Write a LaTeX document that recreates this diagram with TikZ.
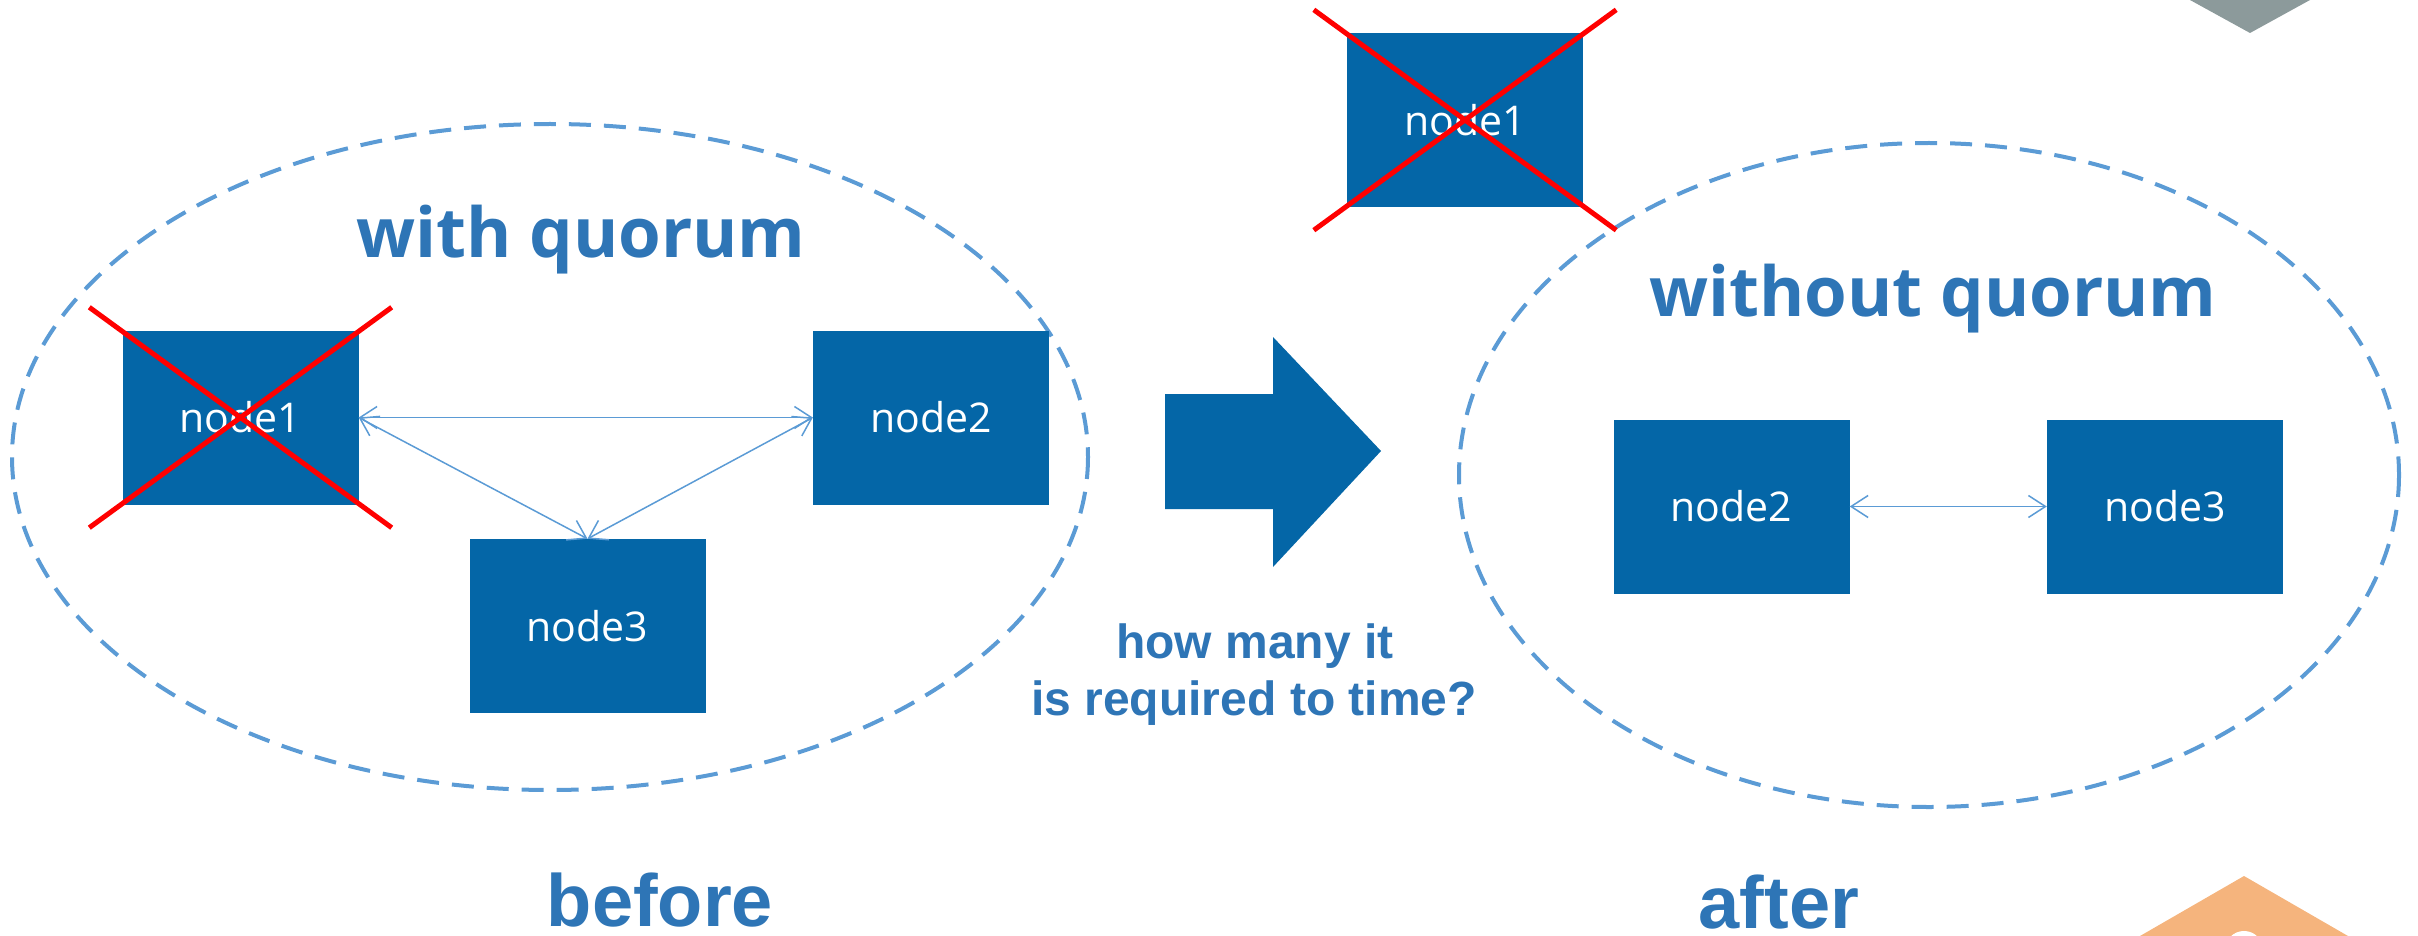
\documentclass[tikz,border=0pt]{standalone}
\usepackage{fontspec}
\setmainfont{Liberation Sans}
\newfontfamily\segoe{Open Sans}
\usetikzlibrary{arrows.meta}

\definecolor{boxblue}{RGB}{4,102,167}
\definecolor{titleblue}{RGB}{46,117,182}
\definecolor{linkblue}{RGB}{91,155,213}
\definecolor{crossred}{RGB}{255,0,0}
\definecolor{tabgrey}{RGB}{140,154,155}
\definecolor{taborange}{RGB}{245,180,125}

\tikzset{
  server/.style={fill=boxblue, text=white, inner sep=0pt,
    minimum width=236pt, minimum height=174pt,
    font=\segoe\fontsize{41}{41}\selectfont},
  link/.style={draw=linkblue, line width=1.5pt,
    {Straight Barb[length=17pt,width=22pt]}-{Straight Barb[length=17pt,width=22pt]}},
  cross/.style={draw=crossred, line width=5pt},
  region/.style={draw=linkblue, line width=4pt, dash pattern=on 22pt off 13pt},
  heading/.style={text=titleblue, inner sep=0pt, anchor=base,
    font=\segoe\bfseries\fontsize{69}{69}\selectfont},
  caption/.style={text=titleblue, inner sep=0pt, anchor=base,
    font=\bfseries\fontsize{74}{74}\selectfont},
  question/.style={text=titleblue, inner sep=0pt, anchor=base,
    font=\bfseries\fontsize{48}{48}\selectfont},
}

\begin{document}
\begin{tikzpicture}[x=1pt, y=-1pt]
  \useasboundingbox (0,0) rectangle (2418,936);
  \clip (0,0) rectangle (2418,936);

  % corner tabs
  \fill[tabgrey] (2190,0) -- (2310,0) -- (2250,33) -- cycle;
  \fill[taborange] (2140,936) -- (2244,876) -- (2348,936) -- cycle;
  \draw[white, line width=6pt] (2244,950) circle (16);

  % cluster regions
  \draw[region] (550,457) ellipse (538 and 333);
  \draw[region] (1929,475) ellipse (470 and 332);

  % before: three nodes
  \node[server] (n1) at (240.5,417.5) {node1};
  \node[server] (n2) at (931,417.5) {node2};
  \node[server] (n3) at (587.5,626) {node3};
  \draw[link] (n1.east) -- (n2.west);
  \draw[link] (n1.east) -- (n3.north);
  \draw[link] (n2.west) -- (n3.north);
  \draw[cross] ([xshift=-33pt,yshift=23pt]n1.north west) -- ([xshift=33pt,yshift=-23pt]n1.south east);
  \draw[cross] ([xshift=33pt,yshift=23pt]n1.north east) -- ([xshift=-33pt,yshift=-23pt]n1.south west);

  % after: node1 dropped out
  \node[server] (t1) at (1465,120) {node1};
  \draw[cross] ([xshift=-33pt,yshift=23pt]t1.north west) -- ([xshift=33pt,yshift=-23pt]t1.south east);
  \draw[cross] ([xshift=33pt,yshift=23pt]t1.north east) -- ([xshift=-33pt,yshift=-23pt]t1.south west);
  \node[server] (r2) at (1731.5,506.5) {node2};
  \node[server] (r3) at (2165,506.5) {node3};
  \draw[link] (r2.east) -- (r3.west);

  % transition arrow
  \fill[boxblue] (1165,394) -- (1273,394) -- (1273,337) -- (1381,451)
    -- (1273,567) -- (1273,509) -- (1165,509) -- cycle;

  % labels
  \node[heading] (wq) at (581,258) {with quorum};
  \node[heading] (woq) at (1933,316) {without quorum};
  \node[caption] (bf) at (660,926) {before};
  \node[caption] (af) at (1779,928) {after};
  \node[question] (q1) at (1255,658) {how many it};
  \node[question] (q2) at (1254,715) {is required to time?};
\end{tikzpicture}
\end{document}
